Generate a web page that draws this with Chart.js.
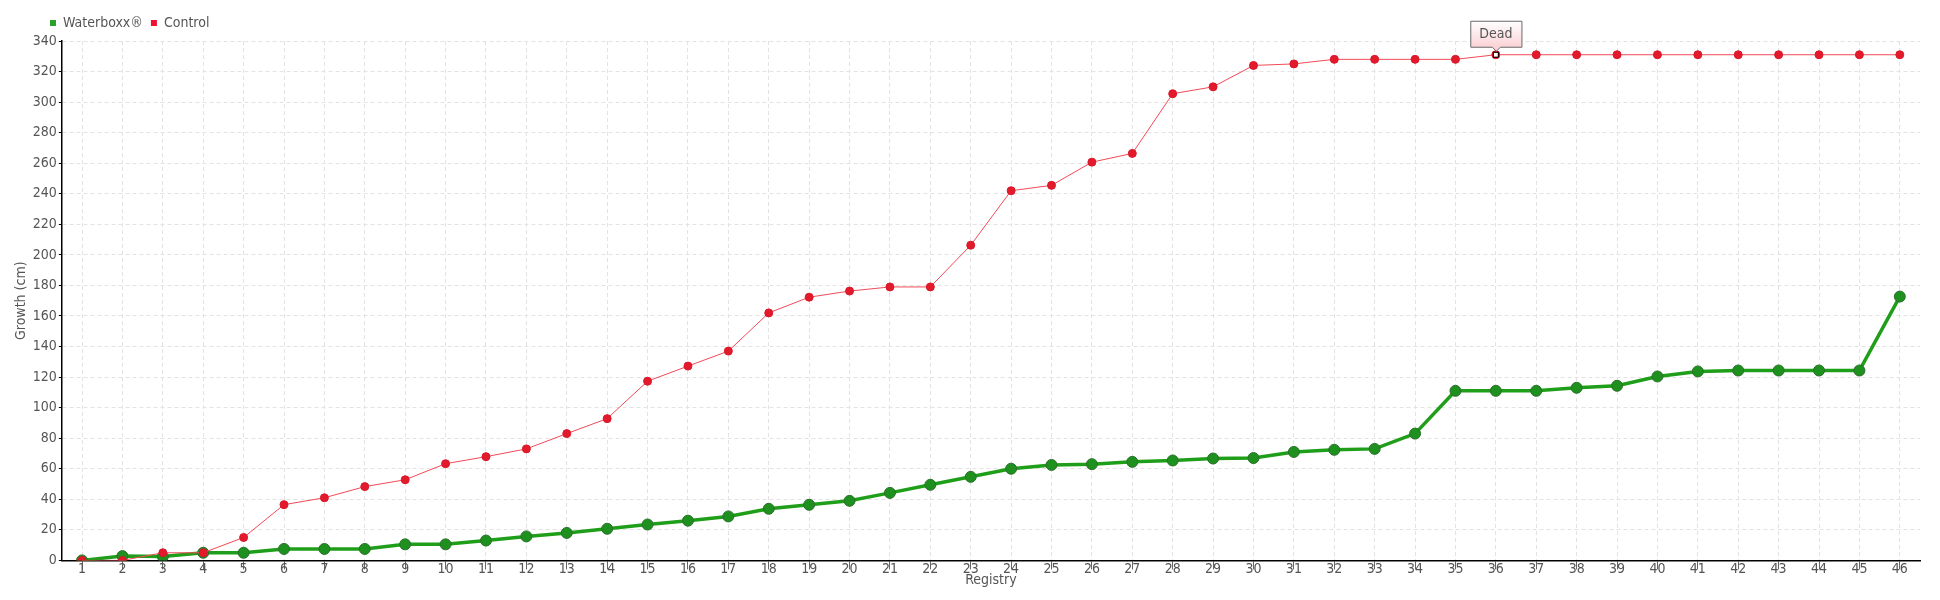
<!DOCTYPE html>
<html>
<head>
<meta charset="utf-8">
<script src="https://cdn.jsdelivr.net/npm/chart.js@4.4.1/dist/chart.umd.min.js"></script>
<style>
    html, body { margin: 0; padding: 0; background: #fff; }
    #chart { display: block; }
</style>
</head>
<body>
<canvas id="chart" width="1940" height="600"></canvas>
<script>
// registry numbers (x axis)
const registry = ['1','2','3','4','5','6','7','8','9','10','11','12','13','14','15','16','17','18','19','20',
    '21','22','23','24','25','26','27','28','29','30','31','32','33','34','35','36','37','38','39','40',
    '41','42','43','44','45','46'];

// growth in cm
const waterboxx = [0, 2.8, 2.5, 5, 5, 7.5, 7.5, 7.5, 10.5, 10.5, 13, 15.7, 18, 20.7, 23.5, 26, 28.8, 33.8, 36.4, 39,
    44.2, 49.5, 54.7, 60, 62.5, 63, 64.5, 65.4, 66.7, 67, 71, 72.4, 73, 83, 111, 111, 111, 113, 114.3, 120.4,
    123.7, 124.3, 124.3, 124.3, 124.3, 172.7];
const control = [0, 0, 5, 5, 15, 36.5, 41, 48.3, 52.8, 63.3, 67.9, 73, 83, 92.8, 117.3, 127.2, 137, 162, 172.3, 176.3,
    179, 179, 206.3, 242, 245.5, 260.7, 266.4, 305.5, 310, 324, 325, 328, 328, 328, 328, 331, 331, 331, 331, 331,
    331, 331, 331, 331, 331, 331];

// y ticks
const yMin = 0;
const yMax = 340;
const yStep = 20;

// note on the control series
const noteAt = ['36'];
const noteText = ['Dead'];

const FONT = "'Liberation Sans Narrow', 'DejaVu Sans Condensed', sans-serif";
const TXT = '#555';

// legend sits a bit right of the canvas edge and a bit higher
const legendShift = {
    id: 'legendShift',
    afterLayout(chart) {
        chart.legend.left += 29;
        chart.legend.right += 29;
        chart.legend.top -= 1;
        chart.legend.bottom -= 1;
    }
};

// "Dead" tag above the control point
const notePlugin = {
    id: 'notePlugin',
    afterDatasetsDraw(chart) {
        const ctx = chart.ctx;
        const xs = chart.scales.x, ys = chart.scales.y;
        noteAt.forEach((lab, i) => {
            const idx = registry.indexOf(lab);
            const x = xs.getPixelForValue(idx);
            const y = ys.getPixelForValue(control[idx]);

            // marker
            ctx.save();
            ctx.fillStyle = '#fff';
            ctx.strokeStyle = '#000';
            ctx.lineWidth = 1;
            ctx.fillRect(x - 2, y - 2, 4, 4);
            ctx.strokeRect(x - 2.5, y - 2.5, 5, 5);

            // box
            ctx.font = '14px ' + FONT;
            const w = ctx.measureText(noteText[i]).width + 18;
            const h = 26;
            const bottom = y - 8;
            const top = bottom - h;
            const left = x - w / 2;
            const g = ctx.createLinearGradient(0, top, 0, bottom);
            g.addColorStop(0, '#ffffff');
            g.addColorStop(1, '#fbd3d6');
            ctx.beginPath();
            ctx.moveTo(left + 0.5, top + 0.5);
            ctx.lineTo(left + w + 0.5, top + 0.5);
            ctx.lineTo(left + w + 0.5, bottom + 0.5);
            ctx.lineTo(x + 4.5, bottom + 0.5);
            ctx.lineTo(x + 0.5, bottom + 4.5);
            ctx.lineTo(x - 3.5, bottom + 0.5);
            ctx.lineTo(left + 0.5, bottom + 0.5);
            ctx.closePath();
            ctx.fillStyle = g;
            ctx.fill();
            ctx.strokeStyle = '#6a6a6a';
            ctx.stroke();

            ctx.fillStyle = TXT;
            ctx.textAlign = 'center';
            ctx.textBaseline = 'middle';
            ctx.fillText(noteText[i], x, top + h / 2 + 1);
            ctx.restore();
        });
    }
};

const ctx = document.getElementById('chart');

new Chart(ctx, {
    type: 'line',
    data: {
        labels: registry,
        datasets: [
            {
                label: 'Waterboxx®',
                data: waterboxx,
                borderColor: '#1f9e1a',
                backgroundColor: '#2ca02c',
                borderWidth: 3.5,
                pointRadius: 5.5,
                pointBackgroundColor: '#1e901e',
                pointBorderColor: '#2a6f2a',
                pointBorderWidth: 1,
                tension: 0,
                order: 2
            },
            {
                label: 'Control',
                data: control,
                borderColor: '#f24a58',
                backgroundColor: '#ee1133',
                borderWidth: 1,
                pointRadius: 4,
                pointBackgroundColor: '#e31a2c',
                pointBorderColor: '#d8182a',
                pointBorderWidth: 1,
                tension: 0,
                order: 1
            }
        ]
    },
    options: {
        responsive: false,
        animation: false,
        devicePixelRatio: 1,
        layout: {
            padding: { left: 13, right: 20, top: 9, bottom: 11 }
        },
        scales: {
            x: {
                offset: true,
                grid: {
                    offset: false,
                    color: '#e3e3e3',
                    tickColor: '#666',
                    tickLength: 9,
                    tickBorderDash: []
                },
                border: { color: '#000', width: 1.5, dash: [4, 3] },
                ticks: {
                    color: TXT,
                    padding: -8,
                    maxRotation: 0,
                    autoSkip: false,
                    font: { size: 14, family: FONT }
                },
                title: {
                    display: true,
                    text: 'Registry',
                    color: TXT,
                    padding: { top: 2, bottom: 0 },
                    font: { size: 14, family: FONT }
                }
            },
            y: {
                min: yMin,
                max: yMax,
                grid: {
                    color: '#e3e3e3',
                    tickColor: '#000',
                    tickLength: 3,
                    tickBorderDash: []
                },
                border: { color: '#000', width: 1.5, dash: [4, 3] },
                ticks: {
                    stepSize: yStep,
                    color: TXT,
                    padding: 2,
                    font: { size: 14, family: FONT }
                },
                title: {
                    display: true,
                    text: 'Growth (cm)',
                    color: TXT,
                    padding: { top: 0, bottom: 1 },
                    font: { size: 14, family: FONT }
                }
            }
        },
        plugins: {
            legend: {
                position: 'top',
                align: 'start',
                labels: {
                    boxWidth: 6,
                    boxHeight: 6,
                    padding: 8,
                    color: TXT,
                    font: { size: 14, family: FONT },
                    sort: (a, b) => a.datasetIndex - b.datasetIndex,
                    generateLabels: (chart) =>
                        Chart.defaults.plugins.legend.labels.generateLabels(chart)
                            .map(l => Object.assign(l, { lineWidth: 0 }))
                }
            },
            tooltip: { enabled: false }
        }
    },
    plugins: [legendShift, notePlugin]
});
</script>
</body>
</html>
